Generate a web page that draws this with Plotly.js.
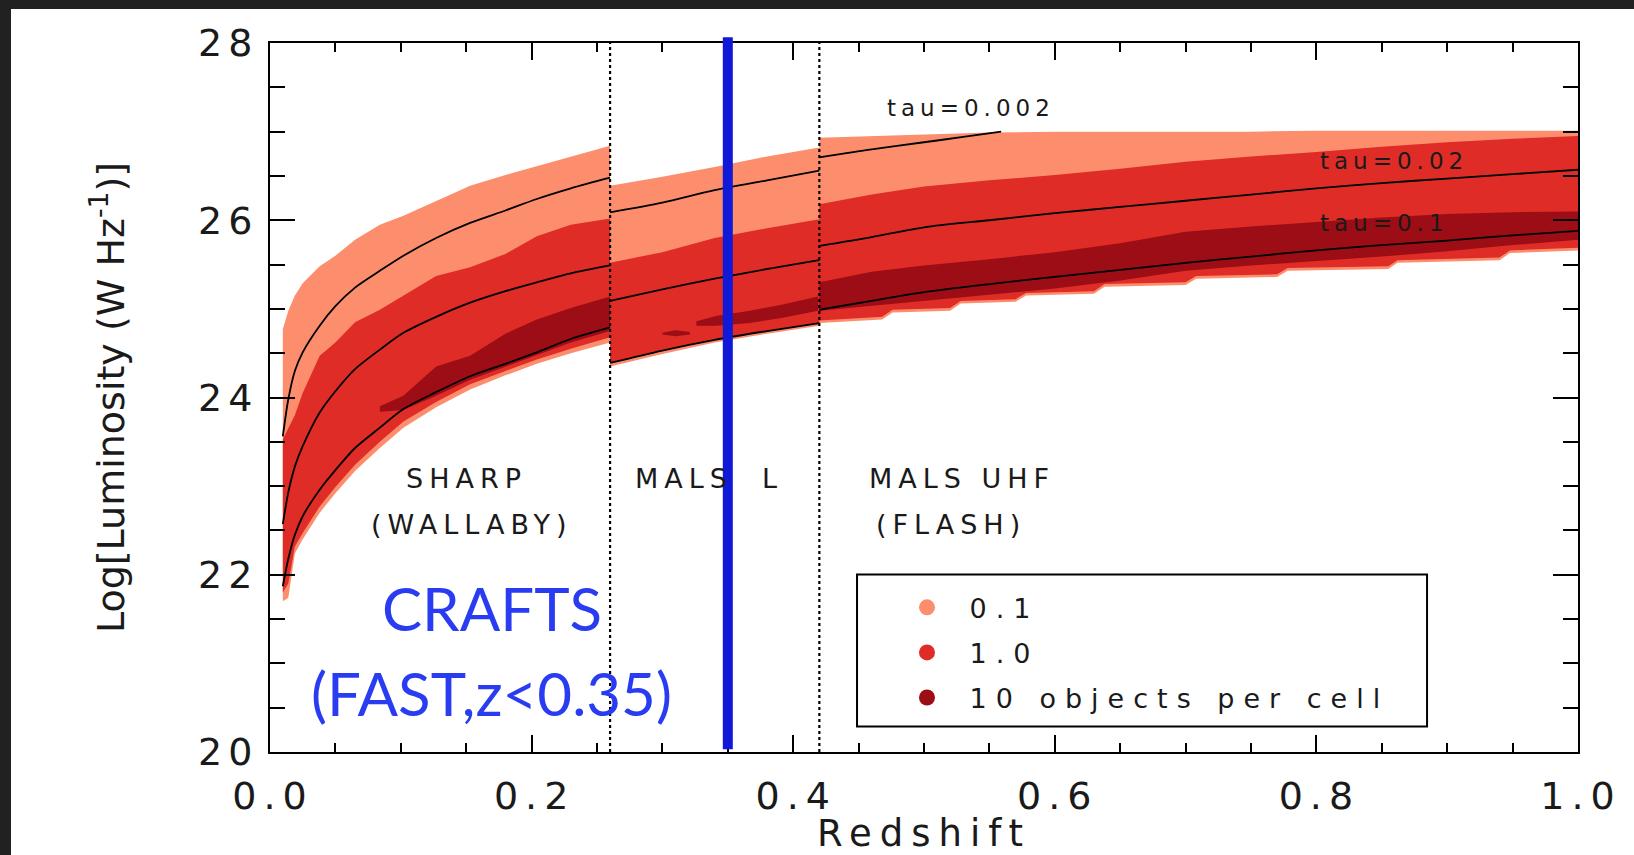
<!DOCTYPE html>
<html><head><meta charset="utf-8">
<script src="https://cdn.plot.ly/plotly-3.0.1.min.js"></script>
<style>
html,body{margin:0;padding:0;background:#212121;overflow:hidden;}
#chart{position:absolute;left:11px;top:9px;width:1623px;height:846px;background:#fff;}
#chart .xtick text{letter-spacing:7px;}
#chart .ytick text{letter-spacing:6px;}
#chart .xtitle{letter-spacing:8px;}
.legendtext{letter-spacing:9px;}
#chart .annotation[data-index="0"] text, #chart .annotation[data-index="1"] text, #chart .annotation[data-index="2"] text{letter-spacing:5px;}
#chart .annotation[data-index="3"] text, #chart .annotation[data-index="4"] text, #chart .annotation[data-index="5"] text,
#chart .annotation[data-index="6"] text, #chart .annotation[data-index="7"] text{letter-spacing:6px;}
</style></head><body><div id="chart"></div><script>
// ---------- Segment 1 : SHARP (WALLABY), z < 0.26 ----------
const zS1 = [0.0098, 0.014, 0.019, 0.025, 0.038, 0.05, 0.065, 0.084, 0.102, 0.127, 0.153, 0.18, 0.204, 0.23, 0.26];
const s1Hi01 = [24.77, 24.98, 25.15, 25.29, 25.48, 25.60, 25.78, 25.95, 26.05, 26.22, 26.39, 26.51, 26.61, 26.71, 26.84];
const s1Lo01 = [21.70, 21.74, 22.24, 22.40, 22.70, 22.92, 23.17, 23.43, 23.66, 23.89, 24.09, 24.25, 24.38, 24.50, 24.62];
const s1Hi1  = [23.53, 23.65, 23.80, 24.05, 24.47, 24.62, 24.85, 24.99, 25.15, 25.37, 25.47, 25.62, 25.82, 25.95, 26.02];
const s1Lo1  = [21.80, 21.90, 22.32, 22.47, 22.77, 22.99, 23.24, 23.50, 23.73, 23.95, 24.15, 24.30, 24.43, 24.55, 24.68];
const s1Tau002 = [23.56, 23.98, 24.30, 24.51, 24.81, 25.03, 25.24, 25.43, 25.60, 25.80, 25.97, 26.11, 26.24, 26.36, 26.48];
const s1Tau02  = [22.57, 22.93, 23.22, 23.45, 23.83, 24.07, 24.32, 24.54, 24.73, 24.91, 25.07, 25.20, 25.30, 25.40, 25.49];
const s1Tau1   = [21.87, 22.18, 22.45, 22.66, 22.96, 23.18, 23.43, 23.66, 23.87, 24.06, 24.24, 24.38, 24.51, 24.66, 24.79];
const zD1   = [0.084, 0.102, 0.127, 0.153, 0.18, 0.204, 0.23, 0.26];
const s1Hi10 = [23.90, 24.02, 24.35, 24.47, 24.72, 24.88, 25.01, 25.14];
const s1Lo10 = [23.84, 23.86, 24.02, 24.20, 24.35, 24.48, 24.62, 24.75];

// ---------- Segment 2 : MALS L, 0.26 < z < 0.42 ----------
const zS2 = [0.26, 0.30, 0.34, 0.38, 0.42];
const s2Hi01 = [26.39, 26.49, 26.60, 26.72, 26.82];
const s2Lo01 = [24.35, 24.49, 24.62, 24.72, 24.81];
const s2Hi1  = [25.52, 25.64, 25.80, 25.91, 26.01];
const s2Lo1  = [24.39, 24.53, 24.65, 24.75, 24.84];
const s2Tau002 = [26.09, 26.20, 26.34, 26.45, 26.56];
const s2Tau02  = [25.09, 25.22, 25.34, 25.45, 25.55];
const s2Tau1   = [24.39, 24.53, 24.65, 24.75, 24.84];
const zD2   = [0.326, 0.341, 0.367, 0.392, 0.419];
const s2Hi10 = [24.86, 24.92, 24.98, 25.05, 25.14];
const s2Lo10 = [24.81, 24.81, 24.84, 24.90, 24.98];
const zD2b   = [0.300, 0.310, 0.321];
const s2Hi10b = [24.73, 24.76, 24.74];
const s2Lo10b = [24.71, 24.69, 24.71];

// ---------- Segment 3 : MALS UHF (FLASH), z > 0.42 ----------
const zS3 = [0.42, 0.46, 0.50, 0.55, 0.60, 0.65, 0.70, 0.75, 0.80, 0.85, 0.90, 0.95, 1.0];
const s3Hi01 = [26.93, 26.95, 26.97, 26.99, 27.00, 27.00, 27.00, 27.00, 27.01, 27.01, 27.01, 27.01, 27.01];
const s3Hi1  = [26.18, 26.29, 26.38, 26.45, 26.51, 26.58, 26.66, 26.72, 26.77, 26.83, 26.88, 26.92, 26.95];
const s3Hi10 = [25.30, 25.42, 25.49, 25.56, 25.64, 25.74, 25.87, 25.93, 25.98, 26.03, 26.07, 26.09, 26.10];
const s3Lo10 = [24.98, 25.03, 25.09, 25.16, 25.23, 25.32, 25.43, 25.49, 25.54, 25.59, 25.65, 25.72, 25.78];
const s3Tau02 = [25.71, 25.81, 25.92, 26.00, 26.08, 26.15, 26.22, 26.29, 26.36, 26.42, 26.47, 26.52, 26.57];
const s3Tau1  = [24.99, 25.09, 25.19, 25.28, 25.36, 25.44, 25.52, 25.59, 25.66, 25.72, 25.77, 25.83, 25.88];
const zB3 = [0.42, 0.468, 0.476, 0.52, 0.528, 0.57, 0.578, 0.63, 0.638, 0.70, 0.708, 0.77, 0.778, 0.855, 0.862, 0.94, 0.948, 1.0];
const s3Lo1  = [24.87, 24.91, 24.99, 25.01, 25.09, 25.11, 25.18, 25.20, 25.28, 25.30, 25.37, 25.39, 25.46, 25.48, 25.55, 25.58, 25.66, 25.69];
const s3Lo01 = [24.84, 24.88, 24.96, 24.98, 25.06, 25.08, 25.15, 25.17, 25.25, 25.27, 25.34, 25.36, 25.43, 25.45, 25.52, 25.55, 25.63, 25.66];
const zT3 = [0.42, 0.46, 0.50, 0.53, 0.559];
const s3Tau002 = [26.71, 26.80, 26.88, 26.94, 27.00];

// ---------- Survey boundaries, markers, labels ----------
const surveyEdges = [0.26, 0.42];
const craftsZ = 0.35;
const levelNames = ['0.1', '1.0', '10 objects per cell'];
const levelColors = ['#fc8e6e', '#df2c26', '#9c0d15'];
const tauLabels = ['tau=0.002', 'tau=0.02', 'tau=0.1'];

function polygons(parts) {
  const x = [], y = [];
  parts.forEach((p, i) => {
    if (i) { x.push(null); y.push(null); }
    x.push(...p[0], ...p[2].slice().reverse());
    y.push(...p[1], ...p[3].slice().reverse());
  });
  return {x, y};
}
function curves(parts) {
  const x = [], y = [];
  parts.forEach((p, i) => {
    if (i) { x.push(null); y.push(null); }
    x.push(...p[0]); y.push(...p[1]);
  });
  return {x, y};
}

const band01 = polygons([[zS1, s1Hi01, zS1, s1Lo01], [zS2, s2Hi01, zS2, s2Lo01], [zS3, s3Hi01, zB3, s3Lo01]]);
const band1  = polygons([[zS1, s1Hi1, zS1, s1Lo1], [zS2, s2Hi1, zS2, s2Lo1], [zS3, s3Hi1, zB3, s3Lo1]]);
const band10 = polygons([[zD1, s1Hi10, zD1, s1Lo10], [zD2, s2Hi10, zD2, s2Lo10], [zD2b, s2Hi10b, zD2b, s2Lo10b], [zS3, s3Hi10, zS3, s3Lo10]]);
const bands = [band01, band1, band10];

const tauCurves = [
  curves([[zS1, s1Tau002], [zS2, s2Tau002], [zT3, s3Tau002]]),
  curves([[zS1, s1Tau02], [zS2, s2Tau02], [zS3, s3Tau02]]),
  curves([[zS1, s1Tau1], [zS2, s2Tau1], [zS3, s3Tau1]])
];

const traces = [];
bands.forEach((b, i) => traces.push({
  type: 'scatter', mode: 'lines', x: b.x, y: b.y, fill: 'toself',
  fillcolor: levelColors[i], line: {width: 0, color: levelColors[i]},
  showlegend: false, hoverinfo: 'skip'
}));
tauCurves.forEach((c, i) => traces.push({
  type: 'scatter', mode: 'lines', x: c.x, y: c.y, name: tauLabels[i],
  line: {color: '#000', width: 1.8, shape: 'spline', smoothing: 0.8},
  showlegend: false, hoverinfo: 'skip'
}));
levelNames.forEach((n, i) => traces.push({
  type: 'scatter', mode: 'markers', x: [null], y: [null], name: n,
  legendgroup: 'g' + i,
  marker: {color: levelColors[i], size: 18, symbol: 'circle'}, showlegend: true
}));

const txtFont = {family: 'DejaVu Sans', size: 27, color: '#1a1a1a'};
const tauFont = {family: 'DejaVu Sans', size: 23, color: '#1a1a1a'};
const blueFont = {family: 'Lato', size: 60, color: '#2a3cf2'};
function ann(text, x, y, font, xanchor) {
  return {text, x, y, xref: 'x', yref: 'y', showarrow: false, font,
          xanchor: xanchor || 'center', align: xanchor || 'center', yanchor: 'middle'};
}

const layout = {
  width: 1623, height: 846,
  margin: {l: 259, r: 56, t: 34, b: 103},
  paper_bgcolor: '#ffffff', plot_bgcolor: '#ffffff',
  hovermode: false,
  font: {family: 'DejaVu Sans', color: '#1a1a1a'},
  xaxis: {
    range: [0, 1], dtick: 0.2, tick0: 0, tickformat: '.1f',
    ticks: 'inside', ticklen: 17, tickwidth: 2, tickcolor: '#000',
    minor: {dtick: 0.05, ticks: 'inside', ticklen: 9, tickwidth: 2, tickcolor: '#000'},
    showline: true, linecolor: '#000', linewidth: 2, mirror: 'allticks',
    showgrid: false, zeroline: false,
    tickfont: {family: 'DejaVu Sans', size: 38, color: '#1a1a1a'},
    ticklabelstandoff: 9, ticklabelshift: 3,
    title: {text: 'Redshift', font: {family: 'DejaVu Sans', size: 37, color: '#1a1a1a'}, standoff: 27}
  },
  yaxis: {
    range: [20, 28], dtick: 2, tick0: 20,
    ticks: 'inside', ticklen: 25, tickwidth: 2, tickcolor: '#000',
    minor: {dtick: 0.5, ticks: 'inside', ticklen: 15, tickwidth: 2, tickcolor: '#000'},
    showline: true, linecolor: '#000', linewidth: 2, mirror: 'allticks',
    showgrid: false, zeroline: false,
    tickfont: {family: 'DejaVu Sans', size: 38, color: '#1a1a1a'},
    ticklabelstandoff: 2,
    title: {text: 'Log[Luminosity (W Hz<sup>-1</sup>)]', font: {family: 'DejaVu Sans', size: 38, color: '#1a1a1a'}, standoff: 74}
  },
  legend: {
    x: 0.4698, y: 0.238, xanchor: 'left', yanchor: 'top',
    bgcolor: 'rgba(0,0,0,0)', borderwidth: 0, itemwidth: 75, tracegroupgap: 7,
    font: {family: 'DejaVu Sans', size: 27, color: '#1a1a1a'}
  },
  shapes: [
    ...surveyEdges.map(z => ({type: 'line', xref: 'x', yref: 'paper', x0: z, x1: z, y0: 0, y1: 1,
      line: {color: '#000', width: 2.2, dash: 'dot'}})),
    {type: 'rect', xref: 'paper', yref: 'paper', x0: 0.4488, x1: 0.8846, y0: 0.036, y1: 0.2503,
      line: {color: '#000', width: 2}, fillcolor: 'rgba(0,0,0,0)'},
    {type: 'line', xref: 'x', yref: 'paper', x0: craftsZ, x1: craftsZ, y0: 0.004, y1: 1.008,
      line: {color: '#1019d8', width: 10}}
  ],
  annotations: [
    ann(tauLabels[0], 0.470, 27.27, tauFont, 'left'),
    ann(tauLabels[1], 0.801, 26.67, tauFont, 'left'),
    ann(tauLabels[2], 0.801, 25.97, tauFont, 'left'),
    ann('SHARP', 0.150, 23.09, txtFont),
    ann('(WALLABY)', 0.154, 22.57, txtFont),
    ann('MALS  L', 0.336, 23.09, txtFont),
    ann('MALS UHF', 0.529, 23.09, txtFont),
    ann('(FLASH)', 0.521, 22.57, txtFont),
    ann('CRAFTS', 0.170, 21.62, blueFont),
    ann('(FAST,z&lt;0.35)', 0.169, 20.67, blueFont)
  ]
};

Plotly.newPlot('chart', traces, layout, {displayModeBar: false, staticPlot: true});
</script></body></html>
